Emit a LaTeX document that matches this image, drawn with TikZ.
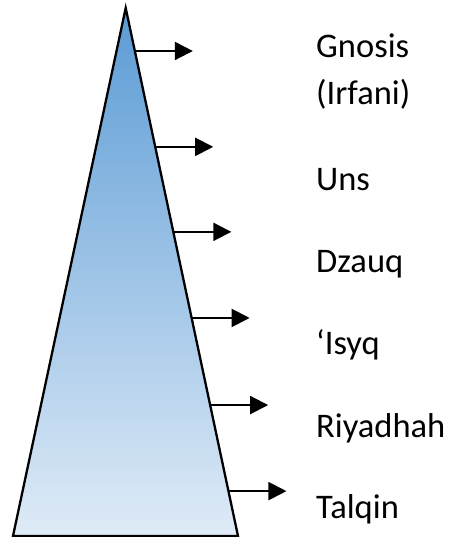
\documentclass[tikz,border=0pt]{standalone}
\usepackage{fontspec}
\setmainfont{Carlito}
\usepackage{xcolor}
\usetikzlibrary{calc, arrows.meta}

\definecolor{peakblue}{RGB}{91,155,213}
\definecolor{baseblue}{RGB}{223,235,247}

\tikzset{
    stage/.style={anchor=base west, inner sep=0pt, font=\fontsize{34.5}{40}\selectfont},
    pointer/.style={line width=2pt, -{Triangle[length=18pt, width=18pt]}}
}

\begin{document}
\begin{tikzpicture}[x=1pt, y=-1pt]

        \useasboundingbox (0,0) rectangle (452,537);

        %% Triangle
        \coordinate (apex) at (125.7,8);
        \coordinate (baseL) at (13,536);
        \coordinate (baseR) at (238,536);
        \shade [top color=peakblue, bottom color=baseblue] (apex) -- (baseR) -- (baseL) -- cycle;
        \draw [line width=2.3pt, line join=miter] (apex) -- (baseR) -- (baseL) -- cycle;

        %% Stages
        \node (gnosis) [stage] at (316,58) {Gnosis};
        \node (irfani) [stage] at (316,105) {(Irfani)};
        \node (uns) [stage] at (316,191) {Uns};
        \node (dzauq) [stage] at (316,272) {Dzauq};
        \node (isyq) [stage] at (316,354) {‘Isyq};
        \node (riyadhah) [stage] at (316,437) {Riyadhah};
        \node (talqin) [stage] at (316,518) {Talqin};

        %% Arrow starts on the right side
        \coordinate (s1) at ($(apex)!0.0814!(baseR)$);
        \coordinate (s2) at ($(apex)!0.263!(baseR)$);
        \coordinate (s3) at ($(apex)!0.424!(baseR)$);
        \coordinate (s4) at ($(apex)!0.587!(baseR)$);
        \coordinate (s5) at ($(apex)!0.752!(baseR)$);
        \coordinate (s6) at ($(apex)!0.915!(baseR)$);

        %% Arrows
        \draw [pointer] (s1) -- ($(s1) + (58,0)$) coordinate (e1);
        \draw [pointer] (s2) -- ($(s2) + (58,0)$) coordinate (e2);
        \draw [pointer] (s3) -- ($(s3) + (58,0)$) coordinate (e3);
        \draw [pointer] (s4) -- ($(s4) + (58,0)$) coordinate (e4);
        \draw [pointer] (s5) -- ($(s5) + (58,0)$) coordinate (e5);
        \draw [pointer] (s6) -- ($(s6) + (58,0)$) coordinate (e6);

\end{tikzpicture}
\end{document}
